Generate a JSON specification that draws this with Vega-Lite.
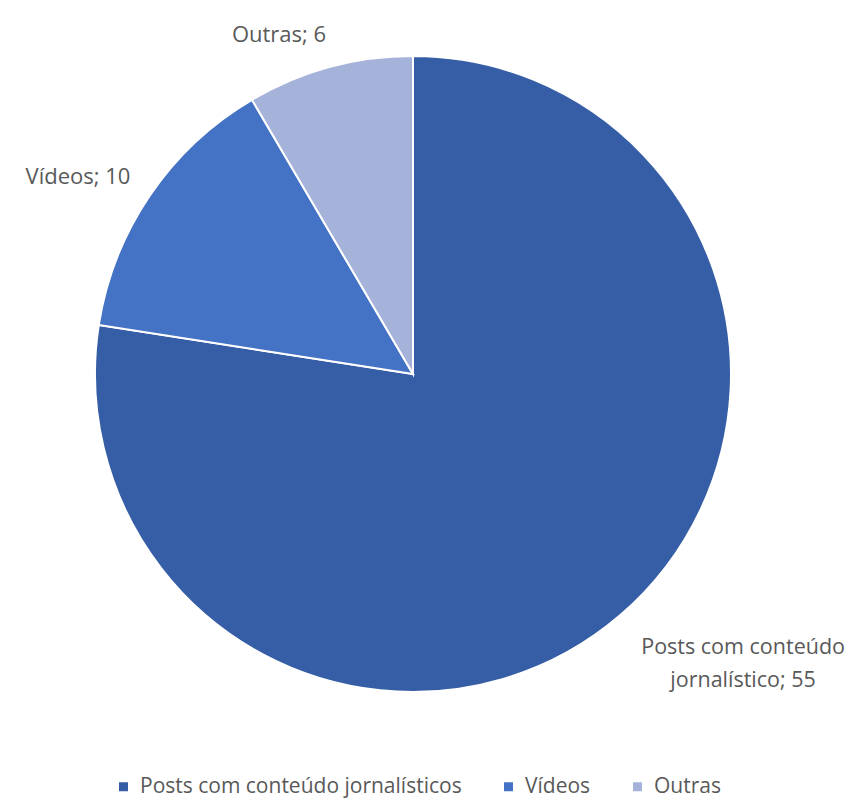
{
  "$schema": "https://vega.github.io/schema/vega-lite/v6.json",
  "width": 826,
  "height": 748,
  "autosize": {"type": "none"},
  "padding": {"left": 0, "top": 0, "right": 27, "bottom": 51},
  "background": "white",
  "view": {"stroke": null},
  "data": {
    "values": [
      {"category": "Posts com conteúdo jornalísticos", "value": 55, "label": ["Posts com conteúdo", "jornalístico; 55"]},
      {"category": "Vídeos", "value": 10, "label": "Vídeos; 10"},
      {"category": "Outras", "value": 6, "label": "Outras; 6"}
    ]
  },
  "encoding": {
    "theta": {"field": "value", "type": "quantitative", "stack": true},
    "order": {"field": "value", "sort": "descending"}
  },
  "layer": [
    {
      "mark": {"type": "arc", "outerRadius": 318, "stroke": "white", "strokeWidth": 2},
      "encoding": {
        "color": {
          "field": "category",
          "type": "nominal",
          "sort": ["Posts com conteúdo jornalísticos", "Vídeos", "Outras"],
          "scale": {
            "domain": ["Posts com conteúdo jornalísticos", "Vídeos", "Outras"],
            "range": ["#365EA6", "#4472C4", "#A5B3DB"]
          },
          "legend": {
            "orient": "none",
            "legendX": 113,
            "legendY": 776,
            "direction": "horizontal",
            "columns": 3,
            "title": null,
            "symbolType": "square",
            "symbolSize": 81,
            "symbolStrokeWidth": 0,
            "labelFont": "Open Sans",
            "labelFontSize": 21,
            "labelColor": "#595959",
            "labelOffset": 6,
            "labelLimit": 600,
            "columnPadding": 36
          }
        }
      }
    },
    {
      "mark": {"type": "text", "radius": 364.5, "thetaOffset": -0.111, "font": "Open Sans", "fontSize": 22, "fill": "#595959", "align": "center", "baseline": "middle"},
      "encoding": {
        "text": {"condition": {"test": "datum.category === 'Outras'", "field": "label"}, "value": ""}
      }
    },
    {
      "mark": {"type": "text", "radius": 388.6, "thetaOffset": -0.0658, "font": "Open Sans", "fontSize": 22, "fill": "#595959", "align": "center", "baseline": "middle"},
      "encoding": {
        "text": {"condition": {"test": "datum.category === 'Vídeos'", "field": "label"}, "value": ""}
      }
    },
    {
      "mark": {"type": "text", "radius": 429, "thetaOffset": -0.17, "font": "Open Sans", "fontSize": 21.5, "fill": "#595959", "align": "center", "baseline": "middle", "lineHeight": 33},
      "encoding": {
        "text": {"condition": {"test": "datum.category === 'Posts com conteúdo jornalísticos'", "field": "label"}, "value": ""}
      }
    }
  ]
}
